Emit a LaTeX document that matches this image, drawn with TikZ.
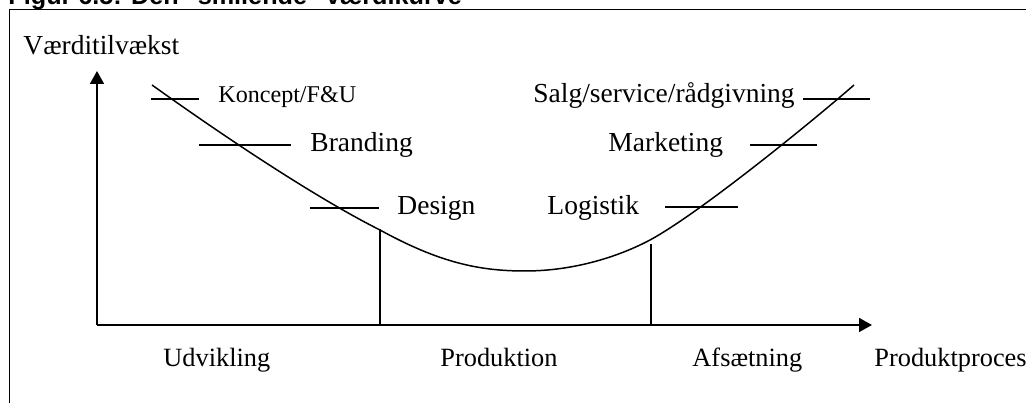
\documentclass[tikz,border=0pt]{standalone}
\usepackage{fontspec}
\setmainfont{Liberation Serif}
\newfontfamily\titlefont{Liberation Sans}
\usetikzlibrary{arrows.meta}
\newcommand{\px}{0.4364pt}
\newcommand{\lw}{0.65pt}

\begin{document}
\begin{tikzpicture}[x=\px, y=-\px, font=\fontsize{12}{14}\selectfont,
  txt/.style={anchor=base west, inner sep=0pt},
  axis/.style={line width=0.85pt, -{Triangle[length=5.6pt, width=6pt]}}]
\useasboundingbox (0,0) rectangle (1026,403);
\clip (0,0) rectangle (1026,403);

% frame with the cut title above it
\node[txt, font=\titlefont\bfseries\fontsize{11}{13}\selectfont] (title) at (8,5) {Figur 6.5: Den "smilende" værdikurve};
\draw[line width=0.45pt] (9.5,9) -- (9.5,403);
\draw[line width=0.45pt] (9,9.5) -- (1026,9.5);

% axes
\coordinate (o) at (97,325);
\coordinate (ytop) at (97,71);
\coordinate (xend) at (872,325);
\draw[axis] (o) -- (ytop);
\draw[axis] (o) -- (xend);
\node[txt] (yl) at (23,55) {Værditilvækst};

% phase borders
\coordinate (d1) at (380,325);
\coordinate (d1t) at (380,229);
\coordinate (d2) at (651,325);
\coordinate (d2t) at (651,244);
\draw[line width=0.45pt] (d1) -- (d1t);
\draw[line width=0.45pt] (d2) -- (d2t);

% the smile
\draw[line width=\lw] (152,85) .. controls (250,155) and (330,205) .. (380,230)
  .. controls (440,263) and (480,271) .. (525,271)
  .. controls (575,271) and (620,256) .. (650,240)
  .. controls (700,213) and (814,120) .. (854,85);

% activities
\foreach \i/\xa/\xb/\y in {1/151/199/99, 2/199/291/145, 3/310/379/208,
                          4/665/738/207, 5/750/817/145, 6/803/870/99} {
\coordinate (ta\i) at (\xa,\y);
\coordinate (tb\i) at (\xb,\y);
\draw[line width=\lw] (ta\i) -- (tb\i);
}
\node[txt, font=\fontsize{10.5}{12}\selectfont] (koncept) at (218,103) {Koncept/F\&U};
\node[txt] (branding) at (310,152) {Branding};
\node[txt] (design) at (397,215) {Design};
\node[txt] (logistik) at (547,215) {Logistik};
\node[txt] (marketing) at (608,152) {Marketing};
\node[txt] (salg) at (533,103) {Salg/service/rådgivning};

% phases
\foreach \n/\x/\lab in {udv/163/Udvikling, prod/440/Produktion, afs/692/Afsætning, proc/874/Produktproces} {
\node[txt, font=\fontsize{11.5}{13}\selectfont] (\n) at (\x,367) {\lab};
}

\end{tikzpicture}
\end{document}
